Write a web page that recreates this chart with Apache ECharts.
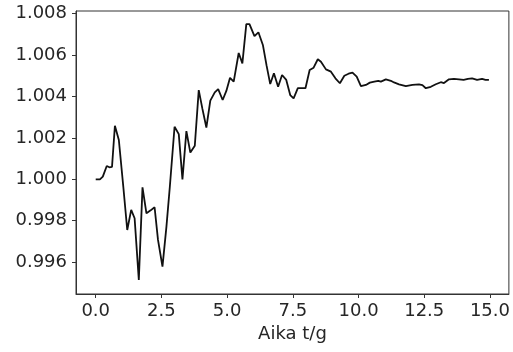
<!DOCTYPE html>
<html>
<head>
<meta charset="utf-8">
<script src="https://cdn.jsdelivr.net/npm/echarts@6/dist/echarts.min.js"></script>
<style>
html,body{margin:0;padding:0;background:#fff;}
#chart{width:513px;height:352px;}
</style>
</head>
<body>
<div id="chart"></div>
<script>
const timeValues = [0.00,0.16,0.27,0.42,0.52,0.62,0.73,0.88,1.05,1.20,1.35,1.48,1.64,1.78,1.93,2.09,2.24,2.37,2.54,2.69,2.82,3.00,3.16,3.30,3.45,3.60,3.77,3.92,4.06,4.21,4.36,4.53,4.66,4.83,4.97,5.11,5.25,5.44,5.58,5.73,5.85,6.04,6.19,6.36,6.50,6.64,6.78,6.94,7.09,7.25,7.40,7.53,7.69,7.85,7.98,8.14,8.29,8.45,8.57,8.76,8.95,9.12,9.29,9.46,9.62,9.77,9.93,10.09,10.28,10.43,10.60,10.75,10.85,11.04,11.23,11.35,11.54,11.80,12.05,12.30,12.43,12.56,12.75,12.94,13.13,13.25,13.44,13.63,13.82,14.00,14.16,14.32,14.51,14.70,14.83,14.96];
const ratioValues = [1.0000,1.0000,1.00013,1.00064,1.00058,1.0006,1.00259,1.0019,0.99964,0.99755,0.99852,0.99812,0.99514,0.99961,0.99836,0.99850,0.99865,0.99707,0.99578,0.99770,0.99964,1.00254,1.00218,1.0000,1.00233,1.00129,1.00162,1.00431,1.00340,1.00250,1.00380,1.0042,1.00436,1.00383,1.00427,1.0049,1.00472,1.0061,1.0056,1.0075,1.0075,1.00692,1.0071,1.00649,1.0055,1.0046,1.00512,1.00447,1.00504,1.0048,1.00407,1.00391,1.0044,1.0044,1.0044,1.00528,1.00539,1.0058,1.00568,1.00531,1.0052,1.00488,1.00464,1.00500,1.00510,1.00515,1.00496,1.0045,1.00456,1.00467,1.00472,1.00476,1.00472,1.00483,1.00476,1.00468,1.00459,1.0045,1.00456,1.00459,1.00455,1.0044,1.00447,1.00459,1.00469,1.00465,1.00483,1.00485,1.00483,1.0048,1.00485,1.00488,1.0048,1.00485,1.0048,1.0048];
const xTicks = [0, 2.5, 5, 7.5, 10, 12.5, 15];
const yTicks = [0.996, 0.998, 1.000, 1.002, 1.004, 1.006, 1.008];
const xLabel = 'Aika t/g';

const seriesData = timeValues.map((t, i) => [t, ratioValues[i]]);
const font = 'DejaVu Sans';
const chart = echarts.init(document.getElementById('chart'), null, {renderer: 'canvas'});
chart.setOption({
  animation: false,
  backgroundColor: '#ffffff',
  grid: {left: 76, right: 3, top: 11, bottom: 58, show: true, borderColor: '#333', borderWidth: 1, backgroundColor: 'transparent'},
  xAxis: {
    type: 'value', min: -0.75, max: 15.72,
    name: xLabel, nameLocation: 'middle', nameGap: 31,
    nameTextStyle: {fontFamily: font, fontSize: 18, color: '#262626'},
    axisLine: {show: true, onZero: false, lineStyle: {color: '#333', width: 1}},
    axisTick: {show: true, length: 4, inside: false, customValues: xTicks, lineStyle: {color: '#333'}},
    axisLabel: {customValues: xTicks, margin: 8, fontFamily: font, fontSize: 18, color: '#262626', formatter: v => v.toFixed(1)},
    splitLine: {show: false}
  },
  yAxis: {
    type: 'value', min: 0.99446, max: 1.00813,
    axisLine: {show: true, onZero: false, lineStyle: {color: '#333', width: 1}},
    axisTick: {show: true, length: 4, inside: false, customValues: yTicks, lineStyle: {color: '#333'}},
    axisLabel: {customValues: yTicks, margin: 9, fontFamily: font, fontSize: 18, color: '#262626', formatter: v => v.toFixed(3)},
    splitLine: {show: false}
  },
  series: [{
    type: 'line', data: seriesData, showSymbol: false, symbol: 'none',
    lineStyle: {color: '#111', width: 1.8}, clip: false
  }]
});
</script>
</body>
</html>
